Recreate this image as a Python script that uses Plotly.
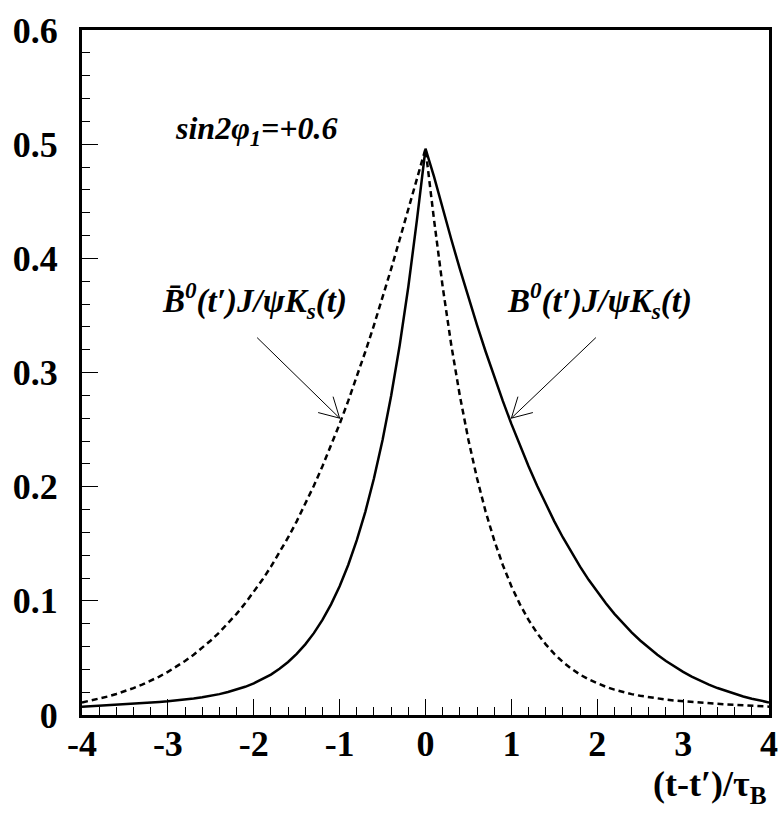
import plotly.graph_objects as go

# sampling points in (t - t')/tau_B
t_vals = [-4.0, -3.9, -3.8, -3.7, -3.6, -3.5, -3.4, -3.3, -3.2, -3.1,
          -3.0, -2.9, -2.8, -2.7, -2.6, -2.5, -2.4, -2.3, -2.2, -2.1,
          -2.0, -1.9, -1.8, -1.7, -1.6, -1.5, -1.4, -1.3, -1.2, -1.1,
          -1.0, -0.9, -0.8, -0.7, -0.6, -0.5, -0.4, -0.3, -0.2, -0.1,
          0.0, 0.1, 0.2, 0.3, 0.4, 0.5, 0.6, 0.7, 0.8, 0.9,
          1.0, 1.1, 1.2, 1.3, 1.4, 1.5, 1.6, 1.7, 1.8, 1.9,
          2.0, 2.1, 2.2, 2.3, 2.4, 2.5, 2.6, 2.7, 2.8, 2.9,
          3.0, 3.1, 3.2, 3.3, 3.4, 3.5, 3.6, 3.7, 3.8, 3.9, 4.0]

# B0 tag (solid)
b0_vals = [0.0073, 0.0077, 0.0081, 0.0085, 0.0089, 0.0093, 0.0098, 0.0103, 0.0108, 0.0114,
           0.0120, 0.0127, 0.0135, 0.0145, 0.0155, 0.0168, 0.0183, 0.0201, 0.0222, 0.0247,
           0.0277, 0.0312, 0.0354, 0.0405, 0.0464, 0.0535, 0.0619, 0.0717, 0.0833, 0.0969,
           0.1128, 0.1314, 0.1531, 0.1782, 0.2073, 0.2409, 0.2796, 0.3241, 0.3751, 0.4334,
           0.4960, 0.4714, 0.4436, 0.4167, 0.3907, 0.3657, 0.3415, 0.3184, 0.2963, 0.2751,
           0.2550, 0.2360, 0.2179, 0.2008, 0.1847, 0.1696, 0.1555, 0.1422, 0.1299, 0.1184,
           0.1077, 0.0978, 0.0886, 0.0802, 0.0724, 0.0653, 0.0587, 0.0527, 0.0473, 0.0423,
           0.0378, 0.0337, 0.0300, 0.0266, 0.0236, 0.0209, 0.0184, 0.0162, 0.0143, 0.0126, 0.0110]

# anti-B0 tag (dashed)
b0bar_vals = [0.0110, 0.0126, 0.0143, 0.0162, 0.0184, 0.0209, 0.0236, 0.0266, 0.0300, 0.0337,
              0.0378, 0.0423, 0.0473, 0.0527, 0.0587, 0.0653, 0.0724, 0.0802, 0.0886, 0.0978,
              0.1077, 0.1184, 0.1299, 0.1422, 0.1555, 0.1696, 0.1847, 0.2008, 0.2179, 0.2360,
              0.2550, 0.2751, 0.2963, 0.3184, 0.3415, 0.3657, 0.3907, 0.4167, 0.4436, 0.4714,
              0.4960, 0.4334, 0.3751, 0.3241, 0.2796, 0.2409, 0.2073, 0.1782, 0.1531, 0.1314,
              0.1128, 0.0969, 0.0833, 0.0717, 0.0619, 0.0535, 0.0464, 0.0405, 0.0354, 0.0312,
              0.0277, 0.0247, 0.0222, 0.0201, 0.0183, 0.0168, 0.0155, 0.0145, 0.0135, 0.0127,
              0.0120, 0.0114, 0.0108, 0.0103, 0.0098, 0.0093, 0.0089, 0.0085, 0.0081, 0.0077, 0.0073]

x_tick_vals = [-4, -3, -2, -1, 0, 1, 2, 3, 4]
x_tick_text = ["-4", "-3", "-2", "-1", "0", "1", "2", "3", "4"]
y_tick_vals = [0, 0.1, 0.2, 0.3, 0.4, 0.5, 0.6]
y_tick_text = ["0", "0.1", "0.2", "0.3", "0.4", "0.5", "0.6"]

# arrow tips (data coordinates)
arrow_left_tip = (-1.0, 0.26)
arrow_right_tip = (1.0, 0.26)

FONT = "Liberation Serif"

fig = go.Figure()
fig.add_trace(go.Scatter(x=t_vals, y=b0bar_vals, mode="lines",
                         line=dict(color="black", width=2.5, dash="6px,4px"),
                         name="B0bar", hoverinfo="skip"))
fig.add_trace(go.Scatter(x=t_vals, y=b0_vals, mode="lines",
                         line=dict(color="black", width=2.5),
                         name="B0", hoverinfo="skip"))

axis_common = dict(showgrid=False, zeroline=False, showline=True, linecolor="black",
                   linewidth=3, mirror=True, ticks="inside", tickcolor="black",
                   tickwidth=1, ticklen=16, automargin=False,
                   tickfont=dict(family=FONT, size=36, color="black", weight="bold"))

fig.update_xaxes(range=[-4, 4], tickmode="array", tickvals=x_tick_vals, ticktext=x_tick_text,
                 minor=dict(tickmode="linear", tick0=-4, dtick=0.2, ticks="inside",
                            ticklen=8, tickcolor="black", tickwidth=1),
                 ticklabelstandoff=-5, **axis_common)
fig.update_yaxes(range=[0, 0.6], tickmode="array", tickvals=y_tick_vals, ticktext=y_tick_text,
                 minor=dict(tickmode="linear", tick0=0, dtick=0.02, ticks="inside",
                            ticklen=8, tickcolor="black", tickwidth=1),
                 ticklabelstandoff=14, **axis_common)

txt_font = dict(family=FONT, size=33, color="black", weight="bold", style="italic")

fig.add_annotation(x=-2.94, y=0.512, xref="x", yref="y", xanchor="left", yanchor="middle",
                   text="sin2φ<sub>1</sub>=+0.6", showarrow=False,
                   font=dict(family=FONT, size=32, color="black", weight="bold", style="italic"))
fig.add_annotation(x=-3.09, y=0.363, xref="x", yref="y", xanchor="left", yanchor="middle",
                   text="B\u0304<sup>0</sup>(t′)J/ψK<sub>s</sub>(t)", showarrow=False, font=txt_font)
fig.add_annotation(x=0.93, y=0.363, xref="x", yref="y", xanchor="left", yanchor="middle",
                   text="B<sup>0</sup>(t′)J/ψK<sub>s</sub>(t)", showarrow=False, font=txt_font)

# arrow shafts (thin lines ending at the curve)
for tip, ax, ay in [(arrow_left_tip, -84, -82), (arrow_right_tip, 86, -82)]:
    fig.add_annotation(x=tip[0], y=tip[1], xref="x", yref="y", text="", showarrow=True,
                       ax=ax, ay=ay, arrowhead=0, arrowwidth=1, arrowcolor="black")
# open V arrow heads: two thin arms from each tip
for tip, arms in [(arrow_left_tip, [(-7, -23), (-23, -6)]),
                  (arrow_right_tip, [(7, -23), (23, -6)])]:
    for ax, ay in arms:
        fig.add_annotation(x=tip[0], y=tip[1], xref="x", yref="y", text="", showarrow=True,
                           ax=ax, ay=ay, arrowhead=0, arrowwidth=1, arrowcolor="black")

fig.add_annotation(x=1.0, y=-0.105, xref="paper", yref="paper", xanchor="right", yanchor="middle",
                   text="(t-t′)/τ<sub>B</sub>", showarrow=False,
                   font=dict(family=FONT, size=36, color="black", weight="bold"))

fig.update_layout(width=781, height=821, margin=dict(l=82, r=12, t=30, b=106),
                  paper_bgcolor="white", plot_bgcolor="white", showlegend=False)

fig.write_html("out.html")
